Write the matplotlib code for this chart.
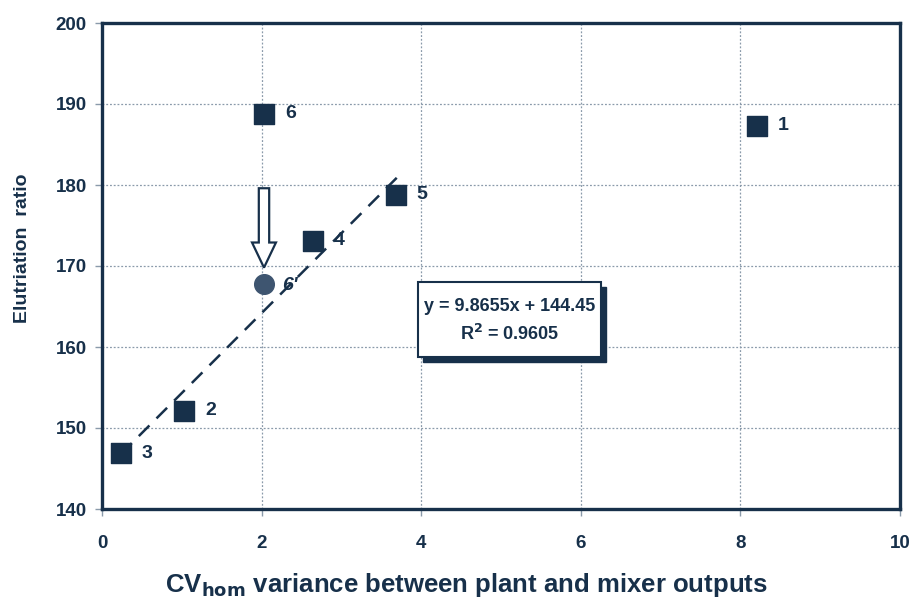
import matplotlib
matplotlib.use("Agg")
import matplotlib.pyplot as plt
from matplotlib.patches import Rectangle, FancyArrow
import numpy as np

plt.rcParams['font.family'] = ['Liberation Sans', 'DejaVu Sans']
plt.rcParams['font.weight'] = 'bold'

navy = '#17304a'
circ = '#3e5570'

# data
labels = ['1', '2', '3', '4', '5', '6']
x_sq = [8.21, 1.03, 0.24, 2.64, 3.68, 2.03]
y_sq = [187.3, 152.1, 146.9, 173.1, 178.8, 188.8]
x_circ = [2.03]
y_circ = [167.8]
circ_labels = ["6'"]
slope, intercept = 9.8655, 144.45
fit_x = [0.24, 3.7]
xticks = [0, 2, 4, 6, 8, 10]
yticks = [140, 150, 160, 170, 180, 190, 200]

fig = plt.figure(figsize=(9.12, 6.01), dpi=100)
ax = fig.add_axes([102/912, 1-509/601, (900-102)/912, (509-23)/601])
ax.set_xlim(0, 10)
ax.set_ylim(140, 200)
ax.set_xticks(xticks)
ax.set_yticks(yticks)
ax.grid(True, color='#8a9aaa', linestyle=(0, (1.5, 1.5)), linewidth=0.9)
ax.set_axisbelow(True)
for s in ax.spines.values():
    s.set_color(navy)
    s.set_linewidth(2.4)
ax.tick_params(direction='out', length=5, width=1, color='#8a9aaa', labelsize=13.5,
               labelcolor=navy, pad=6)
ax.tick_params(axis='x', pad=14)

ax.scatter(x_sq, y_sq, marker='s', s=190, color=navy, zorder=3)
ax.scatter(x_circ, y_circ, marker='o', s=200, color=circ, zorder=3)

fx = np.array(fit_x)
ax.plot(fx, slope*fx + intercept, linestyle=(0, (6, 4)), color=navy, lw=1.8, zorder=3.5)

for xi, yi, lab in zip(x_sq, y_sq, labels):
    ax.annotate(lab, (xi, yi), xytext=(15, 0), textcoords='offset points',
                va='center', ha='left', fontsize=14, color=navy, fontweight='bold')
for xi, yi, lab in zip(x_circ, y_circ, circ_labels):
    ax.annotate(lab, (xi, yi), xytext=(13, -1), textcoords='offset points',
                va='center', ha='left', fontsize=14, color=navy, fontweight='bold',
                style='italic')

# hollow arrow
arr = FancyArrow(2.03, 179.6, 0, -9.8, width=0.13, head_width=0.30, head_length=3.1,
                 length_includes_head=True, facecolor='white', edgecolor=navy, lw=1.6, zorder=4)
ax.add_patch(arr)

# equation box with shadow
bx0, by0, bw, bh = 3.96, 158.8, 2.29, 9.2
sx, sy = 5/79.8, 5/8.1
ax.add_patch(Rectangle((bx0+sx, by0-sy), bw, bh, facecolor=navy, edgecolor=navy, zorder=4))
ax.add_patch(Rectangle((bx0, by0), bw, bh, facecolor='white', edgecolor=navy, lw=1.5, zorder=5))
ax.text(bx0+bw/2, by0+bh*0.68, f"y = {slope}x + {intercept}", ha='center', va='center',
        fontsize=13, color=navy, fontweight='bold', zorder=6)
ax.text(bx0+bw/2, by0+bh*0.30, r"R$^{\mathbf{2}}$ = 0.9605", ha='center', va='center',
        fontsize=13, color=navy, fontweight='bold', zorder=6)

ax.set_ylabel('Elutriation  ratio', fontsize=14, color=navy, fontweight='bold')
ax.yaxis.set_label_coords(-0.089, 0.537)
ax.set_xlabel(r'CV$_{\mathbf{hom}}$ variance between plant and mixer outputs', fontsize=18.5,
              color=navy, fontweight='bold')
ax.xaxis.set_label_coords(0.456, -0.128)

fig.savefig('out.png', dpi=100)
